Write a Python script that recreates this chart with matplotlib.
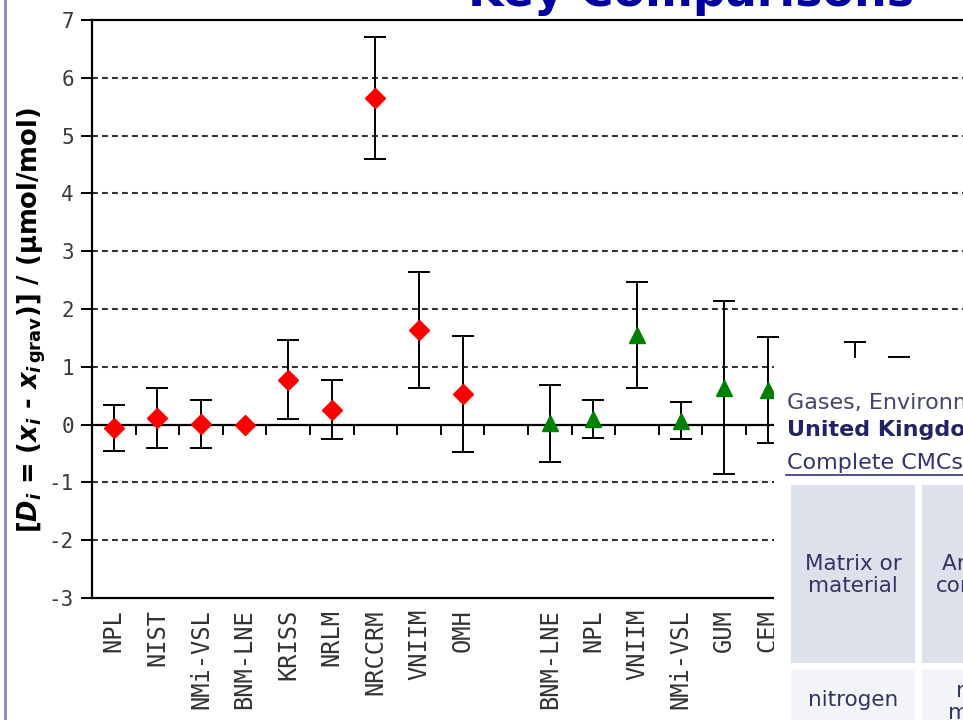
import numpy as np
import matplotlib
matplotlib.use("Agg")
import matplotlib.pyplot as plt
from matplotlib.patches import Rectangle

# Dados (desvios Di com incerteza expandida)
red_labels = ["NPL", "NIST", "NMi-VSL", "BNM-LNE", "KRISS", "NRLM", "NRCCRM", "VNIIM", "OMH"]
red_vals = [-0.06, 0.12, 0.01, 0.00, 0.78, 0.26, 5.65, 1.64, 0.53]
red_err = [0.40, 0.52, 0.42, 0.00, 0.69, 0.51, 1.06, 1.00, 1.00]

green_labels = ["BNM-LNE", "NPL", "VNIIM", "NMi-VSL", "GUM", "CEM", "", "", ""]
green_vals = [0.02, 0.10, 1.55, 0.07, 0.64, 0.60, 0.20, 0.50, 0.30]
green_err = [0.66, 0.33, 0.91, 0.32, 1.50, 0.91, 0.50, 0.93, 0.87]

yticks = [-3, -2, -1, 0, 1, 2, 3, 4, 5, 6, 7]
grid_y = [-2, -1, 1, 2, 3, 4, 5, 6]

title_txt = "Key Comparisons"
overlay_l1 = "Gases, Environment"
overlay_l2 = "United Kingdom"
overlay_l3 = "Complete CMCs"
cell_head = ["Matrix or\nmaterial", "Analyte or\ncomponent"]
cell_row = ["nitrogen", "nitrogen\nmonoxide"]

W, H = 963, 720
fig = plt.figure(figsize=(W / 100, H / 100), dpi=100)
fig.patch.set_facecolor("white")

def fx(px):
    return px / W

def fy(py):
    return 1 - py / H

ax = fig.add_axes([fx(92), fy(598), fx(964) - fx(92), fy(20) - fy(598)])

x_red = np.arange(len(red_labels))
x_green = np.arange(len(green_labels)) + len(red_labels) + 1
labels = red_labels + [""] + green_labels

for y in grid_y:
    ax.axhline(y, color="#333333", lw=1.5, ls=(0, (2.8, 2.0)), zorder=1)
ax.axhline(0, color="black", lw=1.6, zorder=2)

ax.errorbar(x_red, red_vals, yerr=red_err, fmt="none", ecolor="black",
            elinewidth=1.4, capsize=8, capthick=1.4, zorder=3)
ax.plot(x_red, red_vals, "D", color="#ff0000", ms=10.5, mec="#ff0000", zorder=4)
ax.errorbar(x_green, green_vals, yerr=green_err, fmt="none", ecolor="black",
            elinewidth=1.4, capsize=8, capthick=1.4, zorder=3)
ax.plot(x_green, green_vals, "^", color="#008000", ms=12, mec="#008000", zorder=4)

ax.set_xlim(-0.5, 19.5)
ax.set_ylim(-3, 7)
ax.set_yticks(yticks)
ax.set_yticklabels([str(v) for v in yticks], fontsize=15, family="DejaVu Sans Mono", color="#3a3a3a")
ax.tick_params(axis="y", direction="out", length=8, width=1.4, pad=5)

ax.set_xticks(np.arange(len(labels)))
ax.set_xticklabels(labels, rotation=90, fontsize=17, family="DejaVu Sans Mono", color="#333333")
ax.tick_params(axis="x", length=0, pad=8)

for s in ["left", "bottom", "top"]:
    ax.spines[s].set_linewidth(1.6)
    ax.spines[s].set_color("black")
ax.spines["right"].set_color("#aaaaaa")
ax.spines["right"].set_linewidth(1)

# ticks pendurados na linha do zero
ax2 = ax.twiny()
ax2.set_xlim(ax.get_xlim())
ax2.spines["bottom"].set_position(("data", 0))
for s in ["top", "left", "right", "bottom"]:
    ax2.spines[s].set_visible(False)
ax2.xaxis.set_ticks_position("bottom")
ax2.set_xticks(np.arange(len(labels) - 1) + 0.5)
ax2.set_xticklabels([])
ax2.tick_params(axis="x", direction="out", length=7, width=1.4, color="black")

ax.set_ylabel(r"[$\mathbfit{D_i}$ = ($\mathbfit{x_i}$ - $\mathbfit{x}_{\mathbfit{i}\,\mathbf{grav}}$)] / (µmol/mol)",
              fontsize=18.5, fontweight="bold")
ax.yaxis.set_label_coords(-0.05, 0.48)

# titulo cortado no topo
fig.text(fx(468), fy(6), title_txt, fontsize=33, fontweight="bold", color="#0000a0",
         ha="left", va="baseline")

# borda esquerda da pagina
fig.add_artist(plt.Line2D([fx(5), fx(5)], [0, 1], color="#8888bb", lw=2))

# caixa sobreposta (pagina web)
fig.add_artist(Rectangle((fx(774), 0), 1 - fx(774), fy(358), facecolor="white",
                         edgecolor="none", zorder=10, transform=fig.transFigure))
fig.text(fx(787), fy(403), overlay_l1, fontsize=16, color="#444470", va="center", zorder=11)
fig.text(fx(787), fy(430), overlay_l2, fontsize=16, fontweight="bold", color="#222266",
         va="center", zorder=11)
fig.text(fx(787), fy(463), overlay_l3, fontsize=16, color="#333377", va="center", zorder=11)
fig.add_artist(plt.Line2D([fx(786), 1], [fy(475), fy(475)], color="#333377", lw=1.2, zorder=11))

fig.add_artist(Rectangle((fx(791), fy(663)), fx(915) - fx(791), fy(485) - fy(663),
                         facecolor="#dde1ec", edgecolor="none", zorder=11, transform=fig.transFigure))
fig.add_artist(Rectangle((fx(922), fy(663)), fx(1066) - fx(922), fy(485) - fy(663),
                         facecolor="#dde1ec", edgecolor="none", zorder=11, transform=fig.transFigure))
fig.add_artist(Rectangle((fx(791), 0), fx(915) - fx(791), fy(669),
                         facecolor="#f4f5fa", edgecolor="none", zorder=11, transform=fig.transFigure))
fig.add_artist(Rectangle((fx(922), 0), fx(1066) - fx(922), fy(669),
                         facecolor="#f4f5fa", edgecolor="none", zorder=11, transform=fig.transFigure))
fig.text(fx(853), fy(575), cell_head[0], fontsize=15.5, color="#333366", ha="center",
         va="center", linespacing=1.15, zorder=12)
fig.text(fx(997), fy(575), cell_head[1], fontsize=15.5, color="#333366", ha="center",
         va="center", linespacing=1.15, zorder=12)
fig.text(fx(853), fy(700), cell_row[0], fontsize=15.5, color="#333366", ha="center",
         va="center", zorder=12)
fig.text(fx(1001), fy(702), cell_row[1], fontsize=15.5, color="#333366", ha="center",
         va="center", linespacing=1.15, zorder=12)

fig.savefig("out.png", dpi=100)
